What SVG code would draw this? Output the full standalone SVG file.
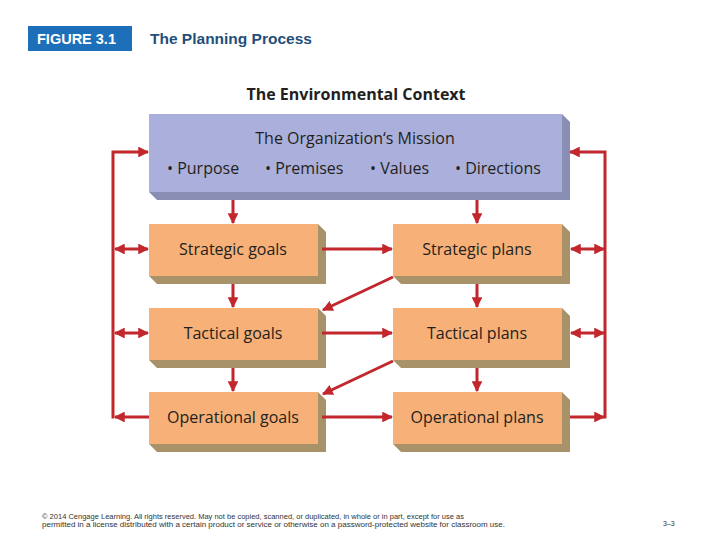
<svg xmlns="http://www.w3.org/2000/svg" width="720" height="540" viewBox="0 0 720 540">
<style>
.t{font-family:"Open Sans","Liberation Sans",sans-serif;fill:#231f20}
.bx{font-size:16px;text-anchor:middle}
.front{fill:#f7b077}
.side{fill:#a8926a}
.mfront{fill:#abafdb}
.mside{fill:#8a8db4}
.c{stroke:#c1272d;stroke-width:3;fill:none}
.foot{font-family:"Liberation Sans",Arial,sans-serif;font-size:7px;fill:#333}
</style>
<defs>
<marker id="ah" viewBox="0 0 10 10" refX="9" refY="5" markerWidth="3.6" markerHeight="3.6" orient="auto-start-reverse" markerUnits="strokeWidth">
<path d="M0,0 L10,5 L0,10 Z" fill="#c1272d"/>
</marker>
</defs>
<rect width="720" height="540" fill="#fff"/>
<g id="header">
<rect x="28" y="26" width="104" height="25" fill="#1d6fba"/>
<text x="37" y="44" font-family="Liberation Sans,Arial,sans-serif" font-size="14.5" font-weight="bold" fill="#fff">FIGURE 3.1</text>
<text x="150" y="44" font-family="Liberation Sans,Arial,sans-serif" font-size="15.5" font-weight="bold" fill="#1f4f7a">The Planning Process</text>
</g>
<g id="context">
<text class="t" x="356" y="100" font-size="16" font-weight="bold" text-anchor="middle">The Environmental Context</text>
</g>
<g id="mission">
<polygon class="mside" points="562,114 570,122 570,200 157,200 149,192 562,192"/>
<rect class="mfront" x="149" y="114" width="413" height="78"/>
<text class="t bx" x="355" y="144">The Organization‘s Mission</text>
<text class="t" font-size="16" y="174"><tspan x="167">• Purpose</tspan><tspan x="265">• Premises</tspan><tspan x="370">• Values</tspan><tspan x="455">• Directions</tspan></text>
</g>
<g id="strategic-goals">
<polygon class="side" points="318,224 326,232 326,284 157,284 149,276 318,276"/>
<rect class="front" x="149" y="224" width="169" height="52"/>
<text class="t bx" x="233" y="255">Strategic goals</text>
</g>
<g id="strategic-plans">
<polygon class="side" points="562,224 570,232 570,284 401,284 393,276 562,276"/>
<rect class="front" x="393" y="224" width="169" height="52"/>
<text class="t bx" x="477" y="255">Strategic plans</text>
</g>
<g id="tactical-goals">
<polygon class="side" points="318,308 326,316 326,368 157,368 149,360 318,360"/>
<rect class="front" x="149" y="308" width="169" height="52"/>
<text class="t bx" x="233" y="339">Tactical goals</text>
</g>
<g id="tactical-plans">
<polygon class="side" points="562,308 570,316 570,368 401,368 393,360 562,360"/>
<rect class="front" x="393" y="308" width="169" height="52"/>
<text class="t bx" x="477" y="339">Tactical plans</text>
</g>
<g id="operational-goals">
<polygon class="side" points="318,392 326,400 326,452 157,452 149,444 318,444"/>
<rect class="front" x="149" y="392" width="169" height="52"/>
<text class="t bx" x="233" y="423">Operational goals</text>
</g>
<g id="operational-plans">
<polygon class="side" points="562,392 570,400 570,452 401,452 393,444 562,444"/>
<rect class="front" x="393" y="392" width="169" height="52"/>
<text class="t bx" x="477" y="423">Operational plans</text>
</g>
<g id="connectors">
<path class="c" d="M113,418.5 L113,152 L148,152" marker-end="url(#ah)"/>
<path class="c" d="M149,417 L115,417" marker-end="url(#ah)"/>
<path class="c" d="M115,249 L148,249" marker-start="url(#ah)" marker-end="url(#ah)"/>
<path class="c" d="M115,333 L148,333" marker-start="url(#ah)" marker-end="url(#ah)"/>
<path class="c" d="M570,417 L604,417" marker-end="url(#ah)"/>
<path class="c" d="M605,418.5 L605,152 L570,152" marker-end="url(#ah)"/>
<path class="c" d="M571,249 L604,249" marker-start="url(#ah)" marker-end="url(#ah)"/>
<path class="c" d="M571,333 L604,333" marker-start="url(#ah)" marker-end="url(#ah)"/>
<path class="c" d="M233,200 L233,223" marker-end="url(#ah)"/>
<path class="c" d="M477,200 L477,223" marker-end="url(#ah)"/>
<path class="c" d="M233,284 L233,307" marker-end="url(#ah)"/>
<path class="c" d="M477,284 L477,307" marker-end="url(#ah)"/>
<path class="c" d="M233,368 L233,391" marker-end="url(#ah)"/>
<path class="c" d="M477,368 L477,391" marker-end="url(#ah)"/>
<path class="c" d="M322,249 L392,249" marker-end="url(#ah)"/>
<path class="c" d="M322,333 L392,333" marker-end="url(#ah)"/>
<path class="c" d="M322,417 L392,417" marker-end="url(#ah)"/>
<path class="c" d="M393,277 L323,310" marker-end="url(#ah)"/>
<path class="c" d="M393,361 L323,394" marker-end="url(#ah)"/>
</g>
<g id="footer">
<text class="foot" x="42" y="519" textLength="422" lengthAdjust="spacingAndGlyphs">© 2014 Cengage Learning. All rights reserved. May not be copied, scanned, or duplicated, in whole or in part, except for use as</text>
<text class="foot" x="42" y="527" textLength="463" lengthAdjust="spacingAndGlyphs">permitted in a license distributed with a certain product or service or otherwise on a password-protected website for classroom use.</text>
<text class="foot" x="663" y="526">3–3</text>
</g>
</svg>
